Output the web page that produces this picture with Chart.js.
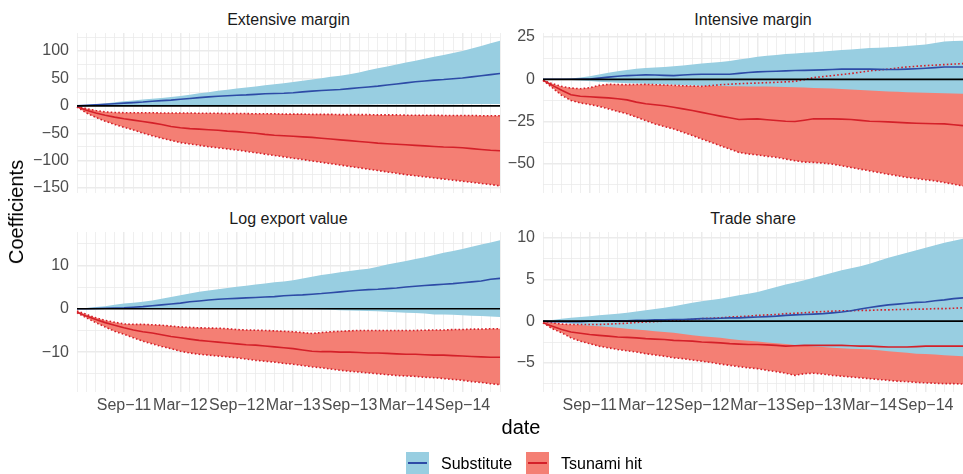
<!DOCTYPE html>
<html>
<head>
<meta charset="utf-8">
<script src="https://cdn.jsdelivr.net/npm/chart.js"></script>
<style>
  html, body { margin:0; padding:0; background:#ffffff; }
  body { width:963px; height:474px; overflow:hidden; position:relative; font-family:'Liberation Sans', Arial, sans-serif; }
  canvas { position:absolute; }
  .strip { position:absolute; font-size:16px; line-height:18px; color:#1A1A1A; text-align:center; white-space:nowrap; }
  .axtitle { position:absolute; font-size:20px; line-height:22px; color:#000; white-space:nowrap; transform:translate(-50%,-50%); }
  .key { position:absolute; width:23px; height:22px; }
  .key span { position:absolute; left:2px; right:2px; top:10px; height:2px; }
  .ltext { position:absolute; font-size:16px; line-height:18px; color:#000; white-space:nowrap; }
</style>
</head>
<body>
<div class="strip" style="left:77px;top:11px;width:423px;">Extensive margin</div>
<div class="strip" style="left:543px;top:11px;width:420px;">Intensive margin</div>
<div class="strip" style="left:77px;top:210px;width:423px;">Log export value</div>
<div class="strip" style="left:543px;top:210px;width:420px;">Trade share</div>

<canvas id="c1" width="505" height="165" style="left:0px;top:28px;width:505px;height:165px;"></canvas>
<canvas id="c2" width="458" height="165" style="left:505px;top:28px;width:458px;height:165px;"></canvas>
<canvas id="c3" width="505" height="191" style="left:0px;top:227px;width:505px;height:191px;"></canvas>
<canvas id="c4" width="458" height="191" style="left:505px;top:227px;width:458px;height:191px;"></canvas>

<div class="axtitle" style="left:16px;top:212px;transform:translate(-50%,-50%) rotate(-90deg);">Coefficients</div>
<div class="axtitle" style="left:521px;top:427px;">date</div>

<div class="key" style="left:406px;top:452px;background:#98CEE1;"><span style="background:#2D4BA6;"></span></div>
<div class="ltext" style="left:441px;top:455px;">Substitute</div>
<div class="key" style="left:526px;top:452px;background:#F47F74;"><span style="background:#D42029;"></span></div>
<div class="ltext" style="left:561px;top:455px;">Tsunami hit</div>

<script>
// ---------- categories (monthly) ----------
const months = ["Apr-11","May-11","Jun-11","Jul-11","Aug-11","Sep-11","Oct-11","Nov-11","Dec-11",
  "Jan-12","Feb-12","Mar-12","Apr-12","May-12","Jun-12","Jul-12","Aug-12","Sep-12","Oct-12","Nov-12","Dec-12",
  "Jan-13","Feb-13","Mar-13","Apr-13","May-13","Jun-13","Jul-13","Aug-13","Sep-13","Oct-13","Nov-13","Dec-13",
  "Jan-14","Feb-14","Mar-14","Apr-14","May-14","Jun-14","Jul-14","Aug-14","Sep-14","Oct-14","Nov-14","Dec-14","Jan-15"];
const labeledMonths = ["Sep","Mar"];
const seriesNames = ["Substitute","Tsunami hit"];

// ---------- Extensive margin ----------
const extSubMean = [0,1,2,3,4,5,6,7,8.5,9.5,10.5,12,13.5,15,16.5,17.5,18.5,19.4,20,21,22,22.5,23,24,25.5,27,28,29,30,31.5,33,34.5,36,38,40,42,44,45.5,47,48,49.5,51,53,55,57,59];
const extSubLo   = [0,0.3,0.5,0.6,0.8,1,1,1.1,1.2,1.3,1.4,1.5,1.6,1.6,1.7,1.8,1.8,1.9,2,2,2.1,2.2,2.2,2.3,2.4,2.4,2.5,2.5,2.6,2.6,2.7,2.7,2.8,2.8,2.9,2.9,3,3,3,3.1,3.1,3.2,3.2,3.3,3.3,3.4];
const extSubHi   = [0,1.5,3,4.5,6.5,8.5,10,11.5,13,14.5,16,18,20.5,23,25,27.5,29.5,31.5,33.5,35.5,37.5,39.5,41.5,43.6,46,48,50.5,53,55,57.6,61,65,68.5,72,75.5,79,82.5,86,89.5,93,96.5,100,104.5,109.5,114.5,119];
const extHitMean = [-1.5,-8,-13,-17,-20.5,-23.5,-26,-28.5,-31,-34,-37.5,-40,-41.5,-42.5,-43.5,-44.5,-46,-47,-48.5,-50,-52,-53.5,-54.5,-55.5,-56.5,-57.5,-59,-60.5,-62,-63.5,-65,-66.5,-68,-69,-70,-71,-72,-73,-74,-75,-75.5,-76.5,-78,-79.5,-81,-82];
const extHitLo   = [-2,-13,-21,-28,-34,-39,-44,-49.5,-54.5,-59,-63,-67,-69.5,-72,-74.5,-76.5,-78.5,-80.5,-83,-85.5,-88,-90.5,-93,-95.5,-98,-100.5,-103,-105.5,-108,-110.5,-113,-115.5,-118,-120.5,-123,-125.5,-127.5,-129.5,-131.5,-133.5,-135.5,-137.5,-139.5,-141.5,-143.5,-146];
const extHitHi   = [-1,-5,-8.5,-11,-12,-12.5,-12.5,-12.5,-12.5,-13,-13,-13,-13,-13.5,-13.5,-13.5,-14,-14,-14,-14.5,-14.5,-14.5,-15,-15,-15,-15.5,-15.5,-15.5,-16,-16,-16,-16,-16.5,-16.5,-16.5,-17,-17,-17,-17,-17.5,-17.5,-17.5,-17.5,-18,-18,-18];
const extYTicks  = [-150,-100,-50,0,50,100];
const extYMinor  = [-125,-75,-25,25,75,125];

// ---------- Intensive margin ----------
const intSubMean = [0,0,0,0,0.1,0.2,0.7,1.3,1.8,2.2,2.4,2.6,2.5,2.3,2.2,2.5,2.8,3,3,3,3,3.5,4,4.4,4.6,4.8,5,5.2,5.3,5.4,5.6,5.8,6,6,6,6,5.9,5.8,5.8,6,6.2,6.5,6.9,7.3,7.3,7.3];
const intSubLo   = [0,0,-0.2,-0.4,-0.7,-1,-1.4,-1.8,-2.1,-2.3,-2.5,-2.7,-2.9,-3.1,-3.3,-3.5,-3.7,-3.9,-4,-4,-4.1,-4.1,-4.2,-4.2,-4.3,-4.4,-4.5,-4.7,-4.9,-5.1,-5.3,-5.5,-5.8,-6.1,-6.4,-6.7,-7,-7.2,-7.4,-7.6,-7.8,-8,-8.1,-8.2,-8.4,-8.5];
const intSubHi   = [0,0,0.2,0.5,1,1.8,2.8,3.8,4.8,5.5,6.2,6.7,7,7.3,7.7,8.2,8.7,9.3,9.8,10.3,10.9,11.7,12.5,13.3,13.9,14.4,14.9,15.3,15.7,16,16.5,16.9,17.3,17.7,18.1,18.5,18.7,19,19.2,19.7,20.1,20.6,21.5,22.4,22.6,22.8];
const intHitMean = [-0.6,-3.6,-6.5,-9.1,-10,-10.3,-10.7,-11,-11.5,-12.2,-13.5,-14.5,-15.1,-15.7,-16.5,-17.5,-18.5,-19.6,-20.7,-21.8,-22.8,-23.8,-23.6,-23.4,-23.9,-24.4,-24.8,-25,-24.2,-23.4,-23.4,-23.4,-23.6,-23.8,-24.3,-24.8,-25,-25.2,-25.5,-25.8,-26,-26.2,-26.3,-26.4,-26.9,-27.4];
const intHitLo   = [-0.6,-5,-9.5,-12.5,-14,-14.9,-16,-17.5,-19,-20.4,-22.4,-24.4,-26.4,-28,-29.4,-31.3,-33.3,-35.3,-37.3,-39.3,-41.3,-43.3,-44.2,-44.8,-45.6,-46.2,-47.2,-48.2,-49,-49.2,-49.6,-50.2,-51.2,-52.2,-53.2,-54.2,-55.2,-56.2,-57.1,-58.1,-58.7,-59.5,-60.1,-61.1,-62.1,-63.1];
const intHitHi   = [-0.6,-2.6,-4.2,-5.2,-5.6,-5,-3.6,-3,-3.1,-3.2,-3.1,-3,-3.2,-3.4,-3.6,-3.8,-4,-4.2,-3.7,-3.2,-2.9,-2.6,-2.4,-2.2,-2,-1.8,-1.5,-1.2,-0.2,1,1.6,2.2,2.8,3.4,4.2,5,5.5,6,6.7,7.3,7.7,8.1,8.4,8.7,9,9.3];
const intYTicks  = [-50,-25,0,25];
const intYMinor  = [-62.5,-37.5,-12.5,12.5];

// ---------- Log export value ----------
const levSubMean = [0,0,0.05,0.1,0.15,0.2,0.35,0.5,0.7,0.9,1.1,1.3,1.6,1.8,2,2.2,2.3,2.4,2.5,2.6,2.7,2.8,3,3.1,3.2,3.35,3.5,3.7,3.9,4.1,4.25,4.4,4.5,4.65,4.8,5,5.2,5.35,5.5,5.65,5.8,6,6.2,6.4,6.8,7];
const levSubLo   = [0,0,0,0,0,0,0,0,0,0,0,0,0,0,0,0,0,0,0,0,0,0,0,0,-0.05,-0.1,-0.15,-0.25,-0.35,-0.4,-0.45,-0.5,-0.6,-0.7,-0.8,-0.9,-1,-1.1,-1.3,-1.35,-1.4,-1.5,-1.6,-1.7,-1.8,-1.9];
const levSubHi   = [0,0.2,0.4,0.6,0.9,1.2,1.4,1.6,1.9,2.3,2.7,3.1,3.5,3.9,4.2,4.5,4.8,5.1,5.3,5.6,5.8,6.1,6.3,6.6,7,7.4,7.8,8.1,8.4,8.7,9,9.2,9.7,10.2,10.6,11,11.5,11.9,12.4,12.9,13.3,13.8,14.3,14.8,15.3,15.8];
const levHitMean = [-0.8,-1.7,-2.5,-3.2,-3.8,-4.4,-4.9,-5.3,-5.6,-6,-6.4,-6.7,-7,-7.3,-7.5,-7.7,-7.9,-8.1,-8.3,-8.4,-8.6,-8.8,-9,-9.2,-9.5,-9.8,-9.9,-9.9,-10,-10,-10.1,-10.2,-10.2,-10.3,-10.4,-10.5,-10.5,-10.6,-10.7,-10.7,-10.8,-10.9,-11,-11.1,-11.2,-11.2];
const levHitLo   = [-0.9,-2.1,-3.2,-4.2,-5.2,-5.9,-6.7,-7.5,-8.1,-8.7,-9.2,-9.8,-10.2,-10.5,-10.7,-10.9,-11.1,-11.3,-11.6,-11.9,-12.1,-12.3,-12.6,-12.8,-13.1,-13.4,-13.6,-13.9,-14.2,-14.4,-14.6,-14.8,-15,-15.2,-15.4,-15.5,-15.6,-15.8,-15.9,-16.1,-16.3,-16.5,-16.8,-17,-17.3,-17.5];
const levHitHi   = [-0.5,-1.3,-2.1,-2.7,-3.1,-3.5,-3.6,-3.6,-3.7,-3.8,-4,-4.2,-4.3,-4.4,-4.45,-4.5,-4.6,-4.8,-4.9,-4.95,-5,-5.1,-5.2,-5.3,-5.5,-5.7,-5.5,-5.3,-5.2,-5.1,-5,-5,-5,-5,-5,-5,-5,-4.95,-4.9,-4.9,-4.8,-4.8,-4.7,-4.7,-4.6,-4.6];
const levYTicks  = [-10,0,10];
const levYMinor  = [-15,-5,5,15];

// ---------- Trade share ----------
const tsSubMean = [0,-0.05,-0.05,-0.05,-0.05,0,0,0,0.05,0.05,0.1,0.1,0.15,0.15,0.2,0.2,0.25,0.3,0.3,0.35,0.4,0.4,0.45,0.5,0.55,0.6,0.7,0.75,0.8,0.85,0.9,1,1.1,1.25,1.45,1.65,1.8,1.95,2.05,2.15,2.25,2.3,2.45,2.55,2.7,2.8];
const tsSubLo   = [0,-0.1,-0.2,-0.3,-0.45,-0.55,-0.6,-0.7,-0.8,-0.9,-1,-1.1,-1.2,-1.3,-1.4,-1.55,-1.7,-1.8,-1.9,-2,-2.15,-2.25,-2.35,-2.45,-2.55,-2.65,-2.75,-2.85,-2.95,-3.05,-3.1,-3.2,-3.25,-3.3,-3.35,-3.4,-3.5,-3.6,-3.7,-3.8,-3.9,-3.95,-4,-4.1,-4.15,-4.2];
const tsSubHi   = [0,0.15,0.3,0.4,0.5,0.6,0.7,0.8,0.9,1,1.15,1.3,1.45,1.6,1.8,2,2.2,2.4,2.55,2.7,2.9,3.1,3.3,3.5,3.8,4.1,4.4,4.65,4.9,5.2,5.5,5.8,6.1,6.35,6.6,6.9,7.25,7.6,7.9,8.2,8.5,8.8,9.1,9.4,9.65,9.9];
const tsHitMean = [-0.2,-0.6,-1,-1.3,-1.45,-1.6,-1.7,-1.8,-1.9,-1.95,-2,-2.1,-2.15,-2.2,-2.3,-2.35,-2.4,-2.5,-2.55,-2.6,-2.7,-2.75,-2.8,-2.8,-2.85,-2.9,-3,-2.95,-2.9,-2.9,-2.9,-2.9,-2.9,-2.95,-3,-3,-3.05,-3.1,-3.1,-3.1,-3.05,-3,-3,-3,-3,-3];
const tsHitLo   = [-0.2,-0.9,-1.4,-2,-2.4,-2.7,-3,-3.2,-3.4,-3.55,-3.7,-3.9,-4.05,-4.2,-4.4,-4.5,-4.65,-4.8,-4.95,-5.15,-5.3,-5.45,-5.6,-5.7,-5.9,-6.05,-6.25,-6.5,-6.3,-6.25,-6.35,-6.5,-6.6,-6.7,-6.8,-6.9,-7,-7.1,-7.2,-7.25,-7.35,-7.4,-7.45,-7.5,-7.5,-7.55];
const tsHitHi   = [0,-0.2,-0.35,-0.4,-0.4,-0.4,-0.4,-0.35,-0.3,-0.25,-0.15,-0.1,-0.05,0,0.1,0.15,0.2,0.3,0.35,0.4,0.5,0.55,0.6,0.7,0.75,0.8,0.9,0.95,1,1.1,1.15,1.2,1.25,1.25,1.3,1.3,1.35,1.35,1.4,1.4,1.45,1.45,1.5,1.5,1.55,1.6];
const tsYTicks  = [-5,0,5,10];
const tsYMinor  = [-7.5,-2.5,2.5,7.5];

// ---------- styling ----------
const FONT = "'Liberation Sans', Arial, sans-serif";
const COL = {
  subFill:'#98CEE1', subLine:'#2D4BA6',
  hitFill:'#F47F74', hitLine:'#D42029',
  grid:'#EBEBEB', tick:'#4D4D4D', zero:'#000000'
};
const MINUS = '\u2212';

function isLabeledMonth(i){ return labeledMonths.includes(months[i].slice(0,3)); }

function makePanel(id, p){
  const zeroLine = [{x: months[0], y: 0}, {x: months[months.length-1], y: 0}];
  const allY = p.yTicks.concat(p.yMinor).sort((a,b)=>a-b);
  const none = 'rgba(0,0,0,0)';
  const base = {pointRadius:0, pointHoverRadius:0, tension:0};
  const dotted = {fill:false, borderColor:COL.hitLine, borderWidth:1.6, borderDash:[1.6,2.2], borderCapStyle:'butt', order:5};
  new Chart(document.getElementById(id), {
    type:'line',
    data:{
      labels: months,
      datasets:[
        Object.assign({label:seriesNames[1]+' hi fill', data:p.hitHi, fill:{target:1}, backgroundColor:COL.hitFill, borderColor:none, borderWidth:0.01, order:10}, base),
        Object.assign({label:seriesNames[1]+' lo fill', data:p.hitLo, fill:false, borderColor:none, borderWidth:0.01, order:10}, base),
        Object.assign({label:seriesNames[0]+' hi fill', data:p.subHi, fill:{target:3}, backgroundColor:COL.subFill, borderColor:none, borderWidth:0.01, order:9}, base),
        Object.assign({label:seriesNames[0]+' lo fill', data:p.subLo, fill:false, borderColor:none, borderWidth:0.01, order:9}, base),
        Object.assign({label:seriesNames[1]+' hi', data:p.hitHi}, dotted, base),
        Object.assign({label:seriesNames[1]+' lo', data:p.hitLo}, dotted, base),
        Object.assign({label:seriesNames[0], data:p.subMean, fill:false, borderColor:COL.subLine, borderWidth:1.6, order:3}, base),
        Object.assign({label:seriesNames[1], data:p.hitMean, fill:false, borderColor:COL.hitLine, borderWidth:1.6, order:3}, base),
        Object.assign({label:'zero', data:zeroLine, fill:false, borderColor:COL.zero, borderWidth:1.7, order:1}, base)
      ]
    },
    options:{
      responsive:false, animation:false, devicePixelRatio:1,
      events:[],
      layout:{padding:{top:5, right:p.padRight, bottom:0, left:0}},
      plugins:{legend:{display:false}, tooltip:{enabled:false}, title:{display:false}},
      scales:{
        x:{
          type:'category', offset:false,
          grid:{color:COL.grid, drawTicks:false, lineWidth:(c)=> isLabeledMonth(c.index) ? 1.5 : 0.8},
          border:{display:false},
          ticks:{display:p.showX, autoSkip:false, maxRotation:0, minRotation:0, padding:4,
                 color:COL.tick, font:{family:FONT, size:16},
                 callback:(v,i)=> isLabeledMonth(i) ? months[i].replace('-', MINUS) : ''},
          afterFit:(s)=>{ s.height = p.showX ? 26 : 0; s.paddingLeft = 0; s.paddingRight = 0; s.paddingTop = 0; s.paddingBottom = 0; }
        },
        y:{
          type:'linear', min:p.yMin, max:p.yMax,
          afterBuildTicks:(s)=>{ s.ticks = allY.map(v=>({value:v})); },
          grid:{color:COL.grid, drawTicks:false, lineWidth:(c)=> (c.tick && p.yTicks.includes(c.tick.value)) ? 1.5 : 0.8},
          border:{display:false},
          ticks:{autoSkip:false, padding:8, color:COL.tick, font:{family:FONT, size:16},
                 callback:(v)=> p.yTicks.includes(v) ? String(v).replace('-', MINUS) : ''},
          afterFit:(s)=>{ s.width = p.yWidth; s.paddingTop = 0; s.paddingBottom = 0; s.paddingLeft = 0; s.paddingRight = 0; }
        }
      }
    }
  });
}

makePanel('c1', {subMean:extSubMean, subLo:extSubLo, subHi:extSubHi, hitMean:extHitMean, hitLo:extHitLo, hitHi:extHitHi,
  yTicks:extYTicks, yMinor:extYMinor, yMin:-159, yMax:133, showX:false, padRight:5, yWidth:77});
makePanel('c2', {subMean:intSubMean, subLo:intSubLo, subHi:intSubHi, hitMean:intHitMean, hitLo:intHitLo, hitHi:intHitHi,
  yTicks:intYTicks, yMinor:intYMinor, yMin:-67.3, yMax:27.4, showX:false, padRight:0, yWidth:38});
makePanel('c3', {subMean:levSubMean, subLo:levSubLo, subHi:levSubHi, hitMean:levHitMean, hitLo:levHitLo, hitHi:levHitHi,
  yTicks:levYTicks, yMinor:levYMinor, yMin:-19.2, yMax:17.7, showX:true, padRight:5, yWidth:77});
makePanel('c4', {subMean:tsSubMean, subLo:tsSubLo, subHi:tsSubHi, hitMean:tsHitMean, hitLo:tsHitLo, hitHi:tsHitHi,
  yTicks:tsYTicks, yMinor:tsYMinor, yMin:-8.5, yMax:10.7, showX:true, padRight:0, yWidth:38});
</script>
</body>
</html>
